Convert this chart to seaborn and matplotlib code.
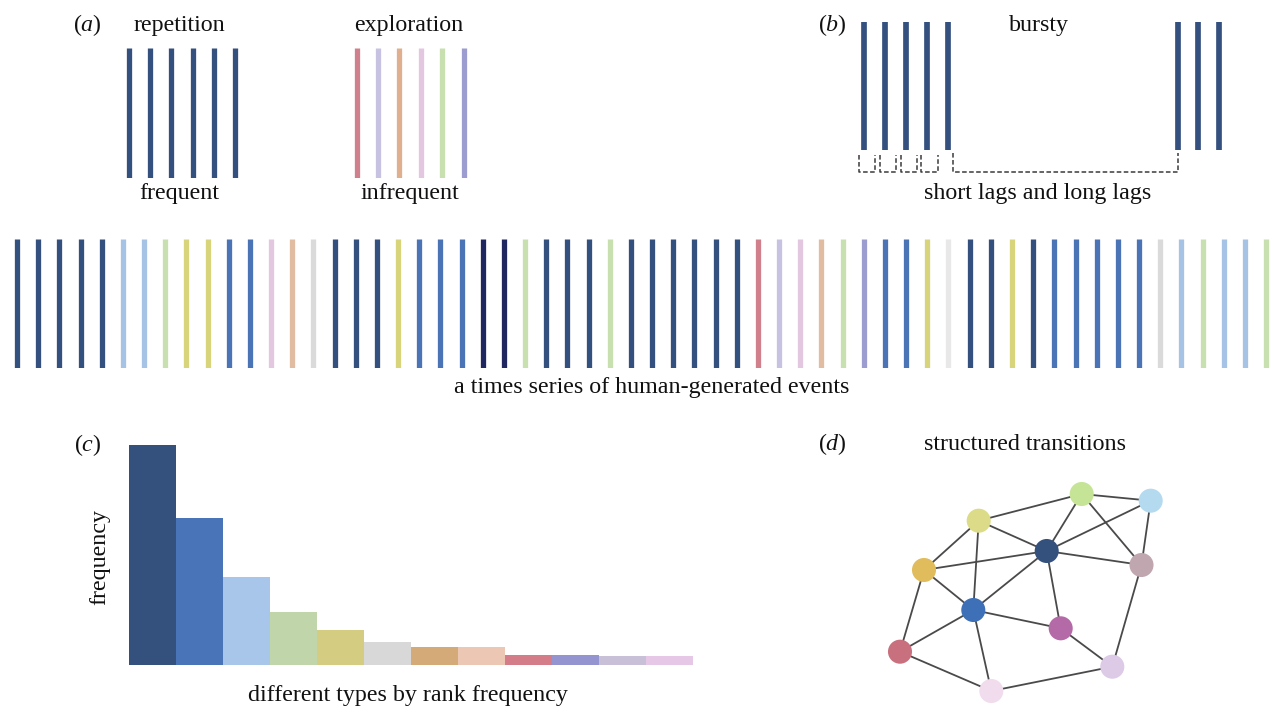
import matplotlib
matplotlib.use("Agg")
import matplotlib.pyplot as plt
import seaborn as sns
import pandas as pd

sns.set_style("white")
plt.rcParams["font.family"] = ["Liberation Serif", "DejaVu Serif"]
plt.rcParams["mathtext.fontset"] = "custom"
plt.rcParams["mathtext.rm"] = "Liberation Serif"
plt.rcParams["mathtext.it"] = "Liberation Serif:italic"

# colours used for event types
pal = {
    "navy": "#34507e", "blue": "#4b74b6", "darknavy": "#1f2660",
    "ltblue": "#a6c3e6", "ltgreen": "#c8e0b0", "yellow": "#d8d47c",
    "pink": "#e3c6e0", "peach": "#e2bca2", "ltgrey": "#dadada",
    "vltgrey": "#e8e8e8", "red": "#d0808c", "lavender": "#c8c2e2",
    "purple": "#9c9cd0", "orange": "#e0b08e",
}

# (a) repetition / exploration
repetition = ["navy"] * 6
exploration = ["red", "lavender", "orange", "pink", "ltgreen", "purple"]

# (b) bursty event times (in units of one short lag)
burst_times = [0, 1, 2, 3, 4, 15, 16, 17]

# time series of events
series = (["navy"] * 5 + ["ltblue"] * 2 + ["ltgreen"] + ["yellow"] * 2 + ["blue"] * 2
          + ["pink", "peach", "ltgrey"] + ["navy"] * 3 + ["yellow", "blue"]
          + ["blue"] * 2 + ["darknavy"] * 2 + ["ltgreen"] + ["navy"] * 3 + ["ltgreen"]
          + ["navy"] * 6 + ["red", "lavender", "pink", "peach", "ltgreen"]
          + ["purple"] + ["blue"] * 2 + ["yellow", "vltgrey"] + ["navy"] * 2
          + ["yellow", "navy"] + ["blue"] * 5 + ["ltgrey", "ltblue", "ltgreen"]
          + ["ltblue"] * 2 + ["ltgreen"])

# (c) rank frequency
ranks = [str(i) for i in range(1, 13)]
freq = [100, 67, 40, 24, 16, 10.5, 8, 8, 4.5, 4.5, 4, 4]
rank_colors = ["#34507c", "#4a74b8", "#a8c6ea", "#c0d6aa", "#d4cc80", "#d8d8d8",
               "#d4aa78", "#ecc8b4", "#d47c88", "#9494d0", "#c8c0d6", "#e6c8e6"]

# (d) transition network
nodes = ["lgreen", "lblue", "yellow", "navy", "mauve", "gold",
         "blue", "magenta", "red", "lavender", "pink"]
node_x = [1081.7, 1150.7, 978.7, 1046.7, 1141.5, 924.0, 973.3, 1060.7, 900.0, 1112.3, 991.3]
node_y = [494.0, 500.7, 520.7, 551.0, 565.0, 570.0, 610.0, 628.3, 651.7, 666.7, 691.0]
node_colors = ["#c6e496", "#b4daf0", "#dcdc88", "#34507c", "#c0a6ae", "#e0bc5c",
               "#3e70b8", "#b46aa6", "#c8707e", "#dccae6", "#f0dcec"]
edges = [("lgreen", "lblue"), ("lgreen", "yellow"), ("lgreen", "navy"), ("lgreen", "mauve"),
         ("lblue", "navy"), ("lblue", "mauve"), ("yellow", "navy"), ("yellow", "gold"),
         ("yellow", "blue"), ("navy", "gold"), ("navy", "blue"), ("navy", "mauve"),
         ("navy", "magenta"), ("gold", "blue"), ("gold", "red"), ("blue", "red"),
         ("blue", "magenta"), ("blue", "pink"), ("magenta", "lavender"), ("red", "pink"),
         ("pink", "lavender"), ("mauve", "lavender")]

W, H = 1282, 708
fig = plt.figure(figsize=(W / 100, H / 100), dpi=100)


def box(x0, y0, x1, y1):
    ax = fig.add_axes([x0 / W, 1 - y1 / H, (x1 - x0) / W, (y1 - y0) / H])
    ax.set_axis_off()
    return ax


LW = 3.8
FS = 17.3

# ---- (a)
ax = box(118.8, 48.3, 245.2, 177.7)
ax.vlines(range(len(repetition)), 0, 1, colors=[pal[c] for c in repetition], lw=LW)
ax.set_xlim(-0.5, len(repetition) - 0.5)
ax.set_ylim(0, 1)

ax = box(346.0, 48.3, 474.4, 177.7)
ax.vlines(range(len(exploration)), 0, 1, colors=[pal[c] for c in exploration], lw=LW)
ax.set_xlim(-0.5, len(exploration) - 0.5)
ax.set_ylim(0, 1)

# ---- (b)
ax = box(850, 18, 1240, 178)
ax.vlines(burst_times, 0, 1, colors=pal["navy"], lw=4.1)
for t0, t1 in zip(burst_times[:-1], burst_times[1:]):
    if t1 - t0 > 1:
        xs = [t0 + 0.25, t0 + 0.25, t1, t1]
        ys = [-0.023, -0.172, -0.172, -0.023]
    else:
        xs = [t0 - 0.25, t0 - 0.25, t1 - 0.45, t1 - 0.45]
        ys = [-0.039, -0.172, -0.172, -0.039]
    ax.plot(xs, ys, color="#3a3a3a", lw=1.1, ls=(0, (3, 1.6)))
    if t1 - t0 > 1:
        break
ax.set_xlim(-14 / 20.9, 376 / 20.9)
ax.set_ylim(-28 / 128, 132 / 128)

# ---- time series
ax = box(0, 239.3, W, 368.3)
ax.vlines(range(len(series)), 0, 1, colors=[pal[c] for c in series], lw=LW)
ax.set_xlim(-17 / 21.17, (W - 17) / 21.17)
ax.set_ylim(0, 1)

# ---- (c)
ax = box(128.75, 445, 693, 665)
df = pd.DataFrame({"rank": ranks, "freq": freq})
sns.barplot(data=df, x="rank", y="freq", hue="rank", palette=rank_colors,
            legend=False, width=1.0, saturation=1, ax=ax)
for p in ax.patches:
    p.set_edgecolor("none")
ax.set_xlim(-0.5, len(ranks) - 0.5)
ax.set_ylim(0, 100)
ax.set_axis_off()

# ---- (d)
ax = box(870, 475, 1180, 708)
pos = dict(zip(nodes, zip(node_x, node_y)))
for a, b in edges:
    ax.plot([pos[a][0], pos[b][0]], [pos[a][1], pos[b][1]],
            color="#4a4a4a", lw=1.3, zorder=1)
ndf = pd.DataFrame({"x": node_x, "y": node_y, "node": nodes})
sns.scatterplot(data=ndf, x="x", y="y", hue="node", palette=node_colors,
                s=300, linewidth=0, legend=False, zorder=3, ax=ax)
ax.set_xlim(870, 1180)
ax.set_ylim(708, 475)
ax.set_axis_off()

# ---- text layer
tx = box(0, 0, W, H)
tx.set_xlim(0, W)
tx.set_ylim(H, 0)
labels = [
    (87, 25, r"($\mathit{a}$)"), (179, 25, "repetition"), (409, 25, "exploration"),
    (179, 193, "frequent"), (410, 193, "infrequent"),
    (832, 25, r"($\mathit{b}$)"), (1039, 25, "bursty"), (1038, 193, "short lags and long lags"),
    (652, 388, "a times series of human-generated events"),
    (88, 445, r"($\mathit{c}$)"), (408, 696, "different types by rank frequency"),
    (832, 444, r"($\mathit{d}$)"), (1025, 444, "structured transitions"),
]
for x, y, s in labels:
    tx.text(x, y, s, ha="center", va="center", fontsize=FS, color="#111111")
tx.text(100, 557, "frequency", ha="center", va="center", rotation=90,
        fontsize=FS, color="#111111")

fig.savefig("out.png", dpi=100)
